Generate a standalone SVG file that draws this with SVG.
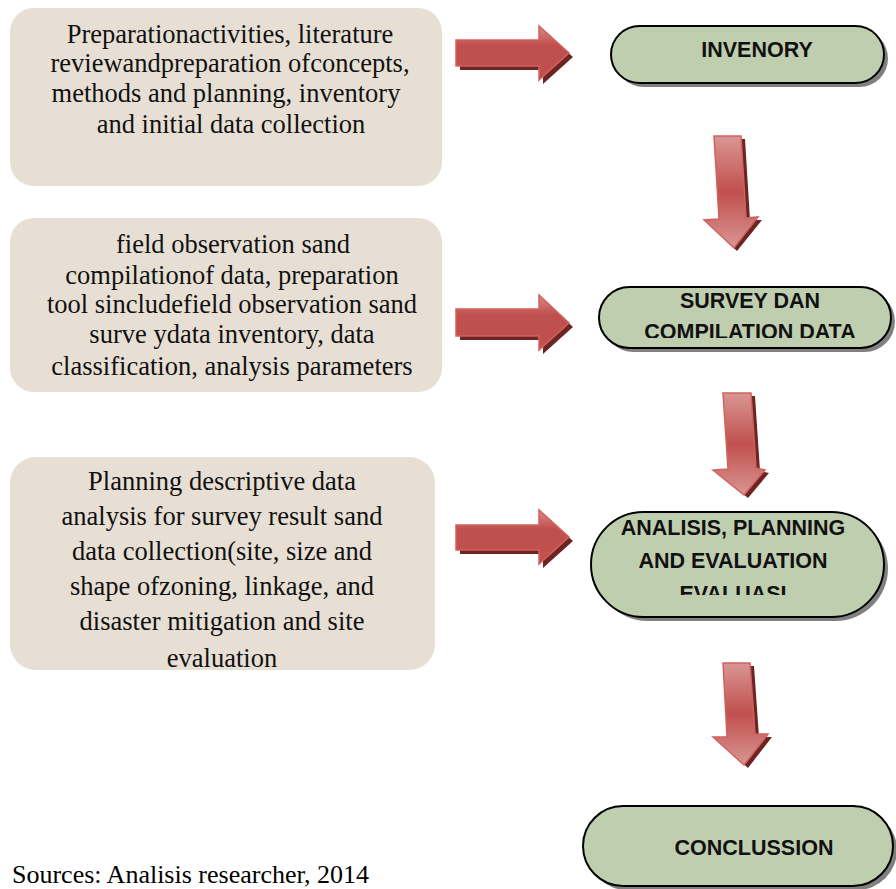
<svg xmlns="http://www.w3.org/2000/svg" width="896" height="889" viewBox="0 0 896 889">
<style>
.box{fill:#E7DFD4}
.bt{font-family:"Liberation Serif","Times New Roman",serif;font-size:26.5px;fill:#111;text-anchor:middle}
.pill{fill:#C0CEB0;stroke:#000;stroke-width:2}
.psh{fill:#808080}
.pt{font-family:"Liberation Sans",Arial,sans-serif;font-size:21.5px;font-weight:bold;fill:#111;text-anchor:middle}
.ash{fill:#6E2422}
.ar{fill:url(#gr);stroke:#D0625E;stroke-width:1.5}
.ad{fill:url(#gd);stroke:#D0625E;stroke-width:1.5}
.src{font-family:"Liberation Serif","Times New Roman",serif;font-size:26px;fill:#000}
</style>
<defs>
<linearGradient id="gr" x1="0" y1="0" x2="0" y2="1">
<stop offset="0" stop-color="#D98B88"/>
<stop offset="0.35" stop-color="#C0504D"/>
<stop offset="1" stop-color="#C0504D"/>
</linearGradient>
<linearGradient id="gd" x1="0" y1="0" x2="0" y2="1">
<stop offset="0" stop-color="#D99694"/>
<stop offset="0.5" stop-color="#C0504D"/>
<stop offset="1" stop-color="#D99694"/>
</linearGradient>
<clipPath id="c2"><rect x="599" y="287" width="292" height="51"/></clipPath>
<clipPath id="c3"><rect x="591" y="512" width="293" height="83"/></clipPath>
</defs>

<g id="box1">
<rect class="box" x="10" y="8" width="432" height="178" rx="24"/>
<text class="bt"><tspan x="230" y="43">Preparationactivities, literature</tspan><tspan x="230" y="72">reviewandpreparation ofconcepts,</tspan><tspan x="226" y="102">methods and planning, inventory</tspan><tspan x="231" y="133">and initial data collection</tspan></text>
</g>
<g id="box2">
<rect class="box" x="10" y="218" width="432" height="174" rx="24"/>
<text class="bt"><tspan x="233" y="253">field observation sand</tspan><tspan x="232" y="284">compilationof data, preparation</tspan><tspan x="232" y="313">tool sincludefield observation sand</tspan><tspan x="232" y="343">surve ydata inventory, data</tspan><tspan x="232" y="375">classification, analysis parameters</tspan></text>
</g>
<g id="box3">
<rect class="box" x="10" y="457" width="425" height="213" rx="26"/>
<text class="bt"><tspan x="222" y="490">Planning descriptive data</tspan><tspan x="222" y="525">analysis for survey result sand</tspan><tspan x="222" y="560">data collection(site, size and</tspan><tspan x="222" y="595">shape ofzoning, linkage, and</tspan><tspan x="222" y="630">disaster mitigation and site</tspan><tspan x="222" y="667">evaluation</tspan></text>
</g>

<g id="inventory">
<rect class="psh" x="615" y="30" width="273" height="57" rx="28.5"/>
<rect class="pill" x="611" y="26" width="273" height="57" rx="28.5"/>
<text class="pt" x="757" y="57">INVENORY</text>
</g>
<g id="survey">
<rect class="psh" x="603" y="291" width="292" height="61" rx="30.5"/>
<rect class="pill" x="599" y="287" width="292" height="61" rx="30.5"/>
<g clip-path="url(#c2)">
<text class="pt" x="750" y="308">SURVEY DAN</text>
<text class="pt" x="750" y="339">COMPILATION DATA</text>
</g>
</g>
<g id="analisis">
<rect class="psh" x="595" y="516" width="293" height="105" rx="52.5"/>
<rect class="pill" x="591" y="512" width="293" height="105" rx="52.5"/>
<g clip-path="url(#c3)">
<text class="pt" x="733" y="535">ANALISIS, PLANNING</text>
<text class="pt" x="733" y="568">AND EVALUATION</text>
<text class="pt" x="733" y="601">EVALUASI</text>
</g>
</g>
<g id="conclussion">
<rect class="psh" x="587" y="810" width="310" height="80" rx="40"/>
<rect class="pill" x="583" y="806" width="310" height="80" rx="40"/>
<text class="pt" x="754" y="855">CONCLUSSION</text>
</g>

<g id="connectors">
<polygon class="ash" points="460,44 543,44 543,30 573,57 543,84 543,70 460,70"/>
<polygon class="ar" points="456,40 539,40 539,26 569,53 539,80 539,66 456,66"/>
<polygon class="ash" points="460,313 543,313 543,299 573,327 543,354 543,340 460,340"/>
<polygon class="ar" points="456,309 539,309 539,295 569,323 539,350 539,336 456,336"/>
<polygon class="ash" points="460,529 543,529 543,514 573,541 543,568 543,554 460,554"/>
<polygon class="ar" points="456,525 539,525 539,510 569,537 539,564 539,550 456,550"/>

<polygon class="ash" points="718,139 745,139 750,220 762,220 737,251 708,223 723,222"/>
<polygon class="ad" points="714,136 741,136 746,218 758,217 734,248 704,220 719,219"/>
<polygon class="ash" points="727,396 755,396 760,471 769,473 748,498 717,473 732,472"/>
<polygon class="ad" points="723,393 751,393 756,468 765,470 744,495 713,470 728,469"/>
<polygon class="ash" points="727,666 754,666 759,737 772,737 748,768 717,740 731,740"/>
<polygon class="ad" points="723,663 750,663 755,734 768,734 744,765 713,737 727,737"/>
</g>

<text class="src" x="12" y="883">Sources: Analisis researcher, 2014</text>
</svg>
